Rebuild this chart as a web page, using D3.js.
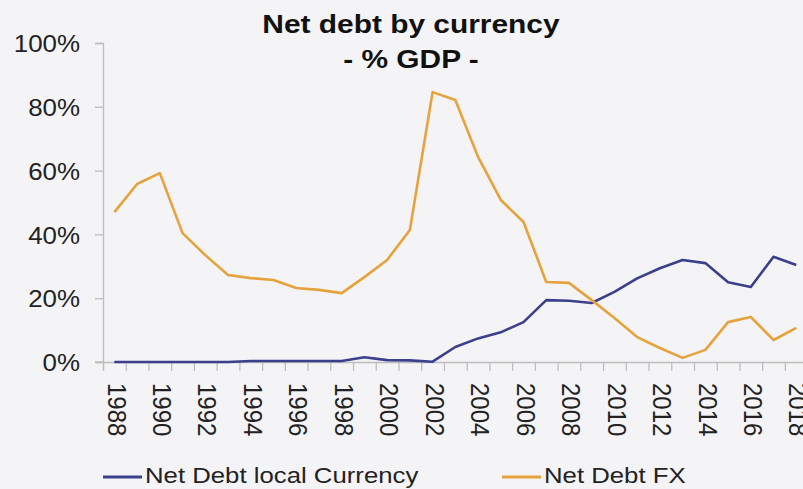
<!DOCTYPE html>
<html>
<head>
<meta charset="utf-8">
<script src="https://cdn.jsdelivr.net/npm/d3@7"></script>
<style>
  html, body { margin: 0; padding: 0; background: #f4f4f6; }
  svg { display: block; font-family: "Liberation Sans", Arial, sans-serif; }
</style>
</head>
<body>
<svg id="chart" width="803" height="489"></svg>
<script>
// Net debt split by currency, share of GDP
const years = d3.range(1988, 2019);
const localCurrency = [0, 0, 0, 0, 0, 0, 0.3, 0.3, 0.3, 0.3, 0.3, 1.5, 0.6, 0.5, 0.1,
  4.7, 7.4, 9.3, 12.5, 19.4, 19.2, 18.5, 22.0, 26.2, 29.4, 32.0, 31.0, 25.0, 23.5, 33.0, 30.4];
const fx = [47.0, 55.8, 59.2, 40.4, 33.5, 27.3, 26.3, 25.7, 23.2, 22.6, 21.6, 26.6, 32.0, 41.4, 84.6,
  82.1, 64.3, 50.8, 43.9, 25.1, 24.8, 19.4, 13.8, 7.8, 4.4, 1.3, 3.8, 12.5, 14.1, 6.9, 10.7];
const yTicks = [0, 20, 40, 60, 80, 100];
const xLabelYears = years.filter(y => y % 2 === 0);
const seriesNames = ["Net Debt local Currency", "Net Debt FX"];
const seriesColors = ["#3b3f8c", "#e6a23c"];

const svg = d3.select("#chart");
svg.append("rect").attr("width", 803).attr("height", 489).attr("fill", "#f4f4f6");

const plotLeft = 103, plotTop = 43, plotBottom = 362, band = 22.73;
const x = d3.scaleBand().domain(years).range([plotLeft, plotLeft + band * years.length]);
const xEdge = d3.scaleLinear().domain([0, years.length]).range([plotLeft, plotLeft + band * years.length]);
const y = d3.scaleLinear().domain([0, 100]).range([plotBottom, plotTop]);
const cx = yr => x(yr) + x.bandwidth() / 2;

const axisColor = "#bdbdbd";
const tickFont = 24, tickSx = 1.08;

// Y axis
const gy = svg.append("g").attr("transform", `translate(${plotLeft},0)`)
  .call(d3.axisLeft(y).tickValues(yTicks).tickFormat(d => d + "%").tickSize(8).tickPadding(0));
gy.select(".domain").attr("stroke", axisColor).attr("stroke-width", 1.3);
gy.selectAll(".tick line").attr("stroke", axisColor).attr("stroke-width", 1.3);
gy.selectAll(".tick text")
  .attr("font-size", tickFont).attr("fill", "#222")
  .attr("x", -23 / tickSx).attr("dy", "0.36em")
  .attr("transform", `scale(${tickSx},1)`);

// X axis: tick marks at the year boundaries
const gxTicks = svg.append("g").attr("transform", `translate(0,${plotBottom})`)
  .call(d3.axisBottom(xEdge).tickValues(d3.range(0, years.length + 1)).tickFormat("").tickSize(9));
gxTicks.select(".domain").attr("stroke", axisColor).attr("stroke-width", 1.3);
gxTicks.selectAll(".tick line").attr("stroke", axisColor).attr("stroke-width", 1.3);
svg.append("line").attr("x1", plotLeft - 8).attr("x2", plotLeft).attr("y1", plotBottom).attr("y2", plotBottom)
  .attr("stroke", axisColor).attr("stroke-width", 1.3);

// X axis labels, every second year, rotated
const gxLabels = svg.append("g").attr("transform", `translate(0,${plotBottom})`)
  .call(d3.axisBottom(x).tickValues(xLabelYears).tickSize(0));
gxLabels.select(".domain").remove();
gxLabels.selectAll(".tick text")
  .attr("font-size", tickFont).attr("fill", "#222")
  .attr("text-anchor", "start")
  .attr("x", 21).attr("y", -2.5 / tickSx).attr("dy", "0.36em")
  .attr("transform", `rotate(90) scale(1,${tickSx})`);

// Series lines
const line = d3.line().x((d, i) => cx(years[i])).y(d => y(d));
[localCurrency, fx].forEach((vals, k) => {
  svg.append("path").datum(vals)
    .attr("d", line)
    .attr("fill", "none")
    .attr("stroke", seriesColors[k])
    .attr("stroke-width", 2.6)
    .attr("stroke-linejoin", "round");
});

// Title
const titleSx = 1.15;
const title = svg.append("text").attr("font-weight", "bold").attr("font-size", 26)
  .attr("fill", "#111").attr("text-anchor", "middle")
  .attr("transform", `scale(${titleSx},1)`);
title.append("tspan").attr("x", 411 / titleSx).attr("y", 33).text("Net debt by currency");
title.append("tspan").attr("x", 411 / titleSx).attr("y", 68).text("- % GDP -");

// Legend
const legendSx = 1.12;
const legendX = [103, 502];
seriesNames.forEach((name, k) => {
  const g = svg.append("g");
  g.append("line").attr("x1", legendX[k]).attr("x2", legendX[k] + 39)
    .attr("y1", 477).attr("y2", 477)
    .attr("stroke", seriesColors[k]).attr("stroke-width", 2.8);
  g.append("text").attr("font-size", 23).attr("fill", "#222")
    .attr("x", (legendX[k] + 42) / legendSx).attr("y", 483)
    .attr("transform", `scale(${legendSx},1)`)
    .text(name);
});
</script>
</body>
</html>
